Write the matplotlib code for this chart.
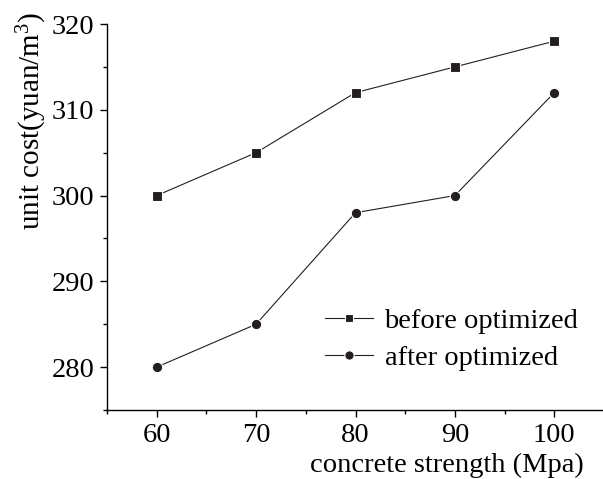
import matplotlib
matplotlib.use("Agg")
import matplotlib.pyplot as plt
from matplotlib.ticker import MultipleLocator

strength = [60, 70, 80, 90, 100]
before_optimized = [300, 305, 312, 315, 318]
after_optimized = [280, 285, 298, 300, 312]

plt.rcParams['font.family'] = ['Liberation Serif', 'DejaVu Serif']
plt.rcParams['mathtext.fontset'] = 'custom'
plt.rcParams['mathtext.rm'] = 'Liberation Serif'

fig = plt.figure(figsize=(6.03, 4.79), dpi=100)
ax = fig.add_axes([107/603, 69/479, 497/603, 386/479])

ax.plot(strength, before_optimized, color='#231f20', lw=0.8, marker='s', ms=7,
        mec='white', mew=0.8, label='before optimized')
ax.plot(strength, after_optimized, color='#231f20', lw=0.8, marker='o', ms=7.5,
        mec='white', mew=0.8, label='after optimized')

ax.set_xlim(55, 105)
ax.set_ylim(275, 320)
ax.xaxis.set_major_locator(MultipleLocator(10))
ax.xaxis.set_minor_locator(MultipleLocator(5))
ax.yaxis.set_major_locator(MultipleLocator(10))
ax.yaxis.set_minor_locator(MultipleLocator(5))
for s in ['top', 'right']:
    ax.spines[s].set_visible(False)
for s in ['left', 'bottom']:
    ax.spines[s].set_linewidth(1.0)
ax.tick_params(which='major', direction='out', length=5, width=1.0, labelsize=20.5, pad=4)
ax.tick_params(which='minor', direction='out', length=3, width=1.0)

ax.set_xlabel('concrete strength (Mpa)', fontsize=20.5, labelpad=0)
ax.xaxis.set_label_coords(0.96, -0.11, transform=ax.transAxes)
ax.xaxis.label.set_ha('right')
ax.set_ylabel('unit cost(yuan/m$\\mathregular{^3}$)', fontsize=21)
ax.yaxis.set_label_coords(-0.117, 0.75)

leg = ax.legend(loc='lower right', bbox_to_anchor=(1.0, 0.035), frameon=False,
                fontsize=20.5, handlelength=1.7, handletextpad=0.4,
                labelspacing=0.4, markerscale=0.9)

fig.savefig('out.png', dpi=100)
